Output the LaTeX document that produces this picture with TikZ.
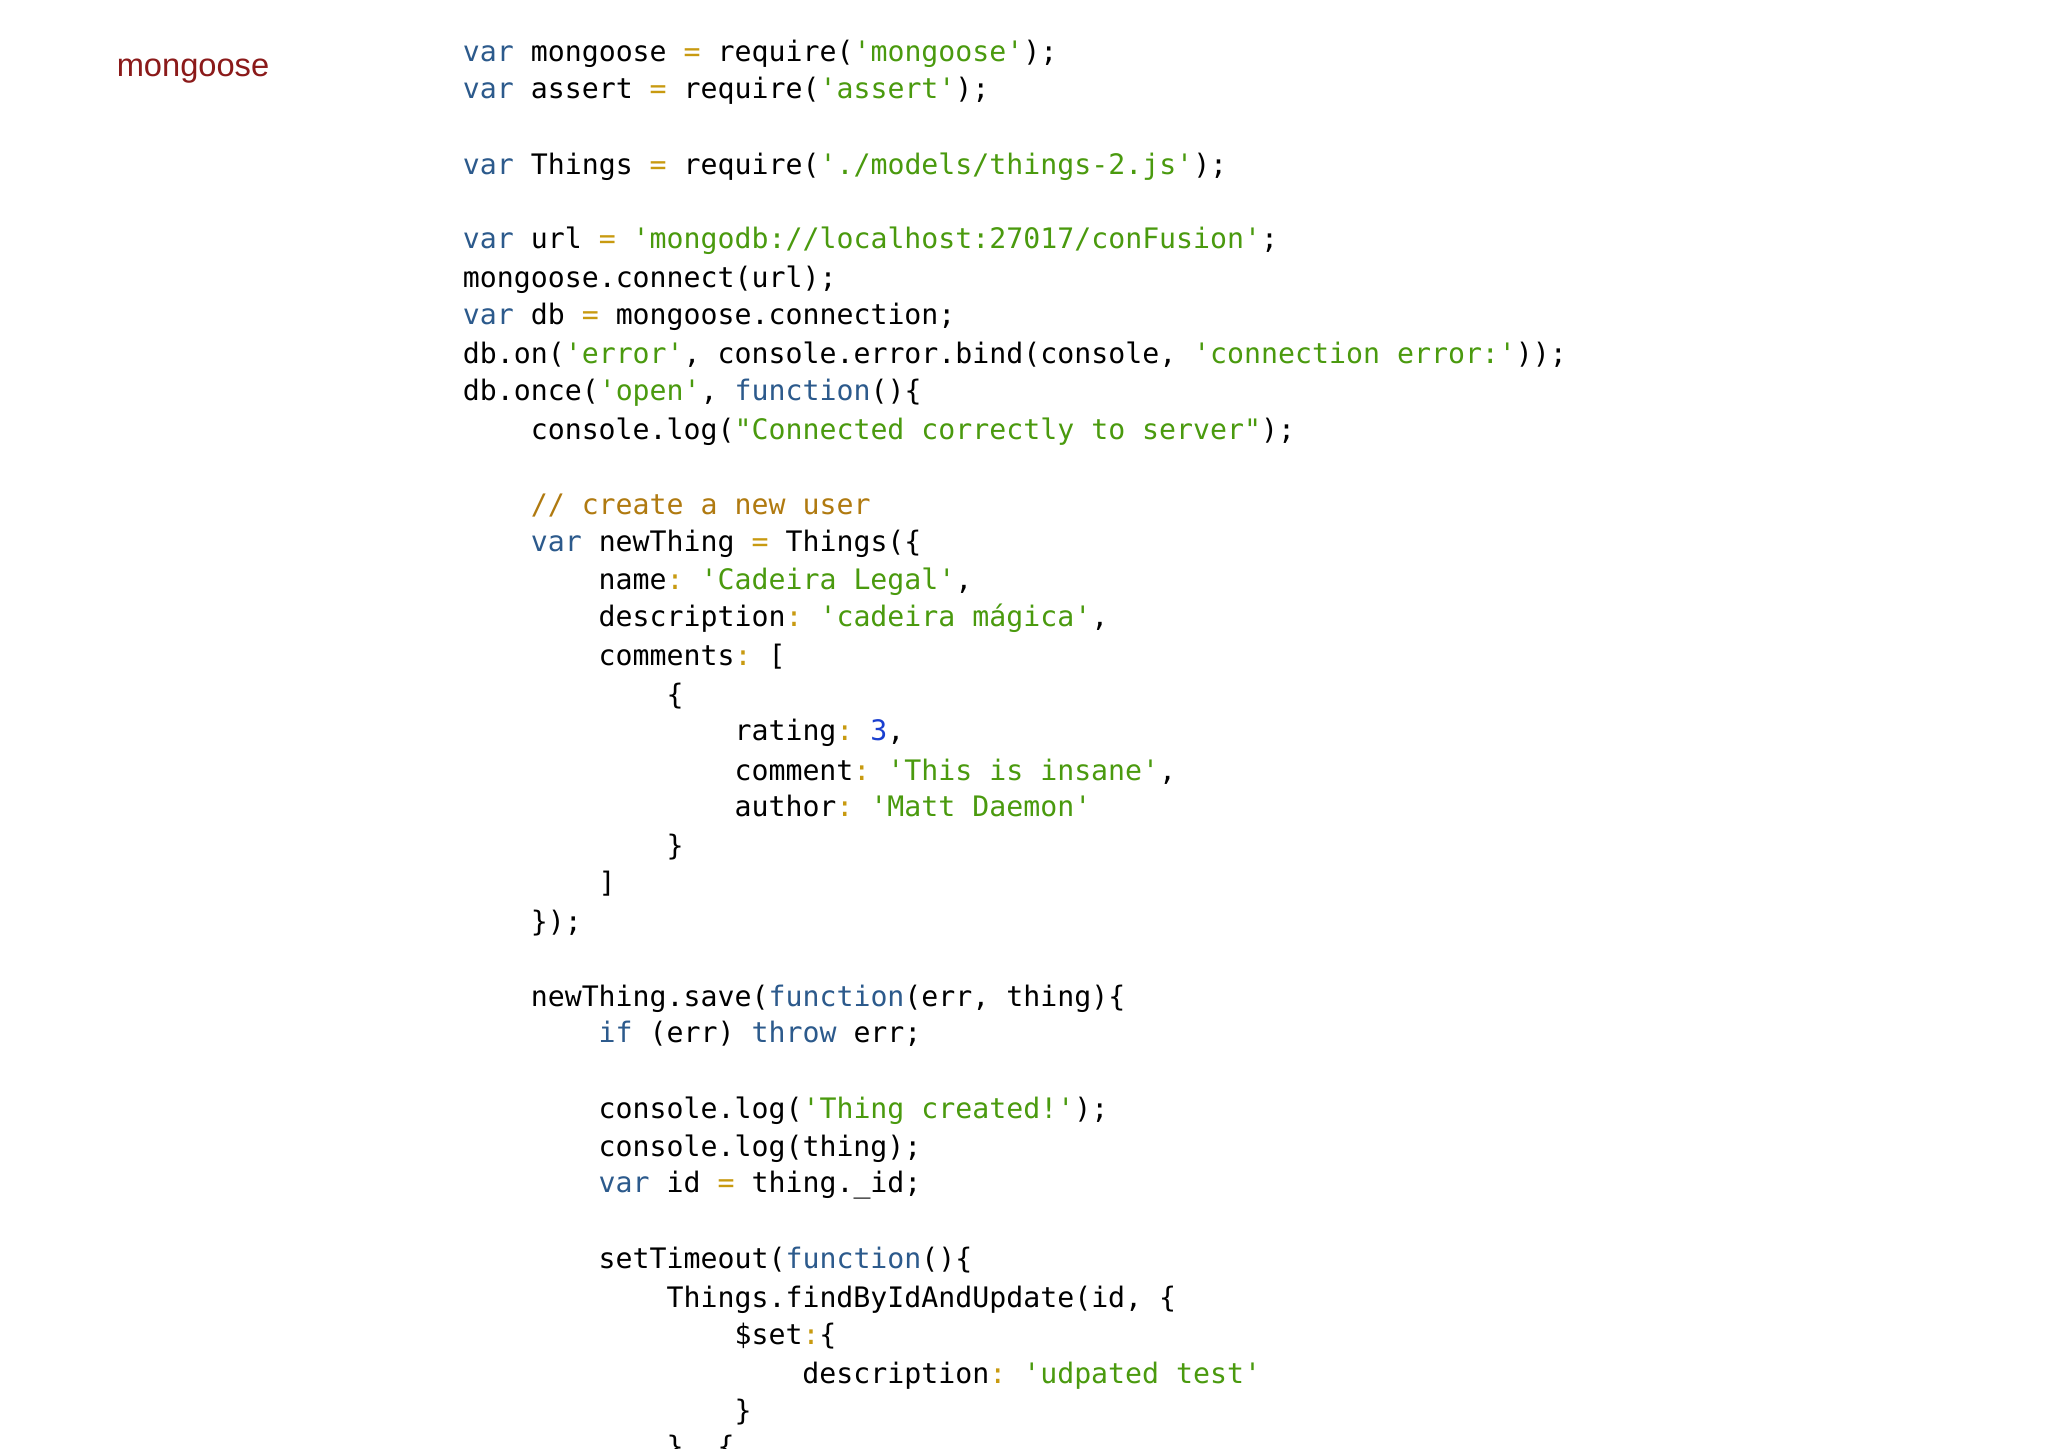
\documentclass[tikz,border=0pt]{standalone}
\usepackage{fontspec}
\setmainfont{Liberation Sans}
\setmonofont{DejaVu Sans Mono}
\definecolor{kwc}{HTML}{2C5A8C}
\definecolor{stc}{HTML}{4A9A0E}
\definecolor{opc}{HTML}{C89A10}
\definecolor{cmc}{HTML}{B07A10}
\definecolor{nmc}{HTML}{1A3FD0}
\definecolor{titlec}{HTML}{8B1A1A}
\newcommand\kw[1]{\textcolor{kwc}{#1}}
\newcommand\st[1]{\textcolor{stc}{#1}}
\newcommand\op[1]{\textcolor{opc}{#1}}
\newcommand\cm[1]{\textcolor{cmc}{#1}}
\newcommand\nm[1]{\textcolor{nmc}{#1}}
\begin{document}
\begin{tikzpicture}[x=1pt,y=1pt,
  code/.style={anchor=mid west,inner sep=0pt,font=\ttfamily\fontsize{10.8}{12}\selectfont,text=black}]
\useasboundingbox (0,0) rectangle (784,-554.5);
\clip (0,0) rectangle (784,-554.5);
\fill[white] (0,0) rectangle (784,-554.5);
\node[anchor=mid west,inner sep=0pt,text=titlec,font=\fontsize{12.5}{14}\selectfont] (title) at (44.5,-26.5) {mongoose};
\foreach \n/\i/\y/\t in {
 l1/0/39/{\kw{var} mongoose \op{=} require(\st{'mongoose'});},
 l2/0/67/{\kw{var} assert \op{=} require(\st{'assert'});},
 l3/0/125/{\kw{var} Things \op{=} require(\st{'./models/things-2.js'});},
 l4/0/182/{\kw{var} url \op{=} \st{'mongodb://localhost:27017/conFusion'};},
 l5/0/212/{mongoose.connect(url);},
 l6/0/240/{\kw{var} db \op{=} mongoose.connection;},
 l7/0/270/{db.on(\st{'error'}, console.error.bind(console, \st{'connection error:'}));},
 l8/0/298/{db.once(\st{'open'}, \kw{function}()\{},
 l9/4/328/{console.log(\st{"Connected correctly to server"});},
 l10/4/386/{\cm{// create a new user}},
 l11/4/414/{\kw{var} newThing \op{=} Things(\{},
 l12/8/443/{name\op{:} \st{'Cadeira Legal'},},
 l13/8/471/{description\op{:} \st{'cadeira mágica'},},
 l14/8/501/{comments\op{:} [},
 l15/12/531/{\{},
 l16/16/559/{rating\op{:} \nm{3},},
 l17/16/589/{comment\op{:} \st{'This is insane'},},
 l18/16/617/{author\op{:} \st{'Matt Daemon'}},
 l19/12/647/{\}},
 l20/8/675/{]},
 l21/4/705/{\});},
 l22/4/762/{newThing.save(\kw{function}(err, thing)\{},
 l23/8/790/{\kw{if} (err) \kw{throw} err;},
 l24/8/848/{console.log(\st{'Thing created!'});},
 l25/8/877/{console.log(thing);},
 l26/8/905/{\kw{var} id \op{=} thing.\_id;},
 l27/8/963/{setTimeout(\kw{function}()\{},
 l28/12/993/{Things.findByIdAndUpdate(id, \{},
 l29/16/1021/{\$set\op{:}\{},
 l30/20/1051/{description\op{:} \st{'udpated test'}},
 l31/16/1079/{\}},
 l32/12/1107/{\}, \{}}
 {\node[code] (\n) at ({177+\i*6.5},{-\y/2-1.5}) {\t};}
\end{tikzpicture}
\end{document}
